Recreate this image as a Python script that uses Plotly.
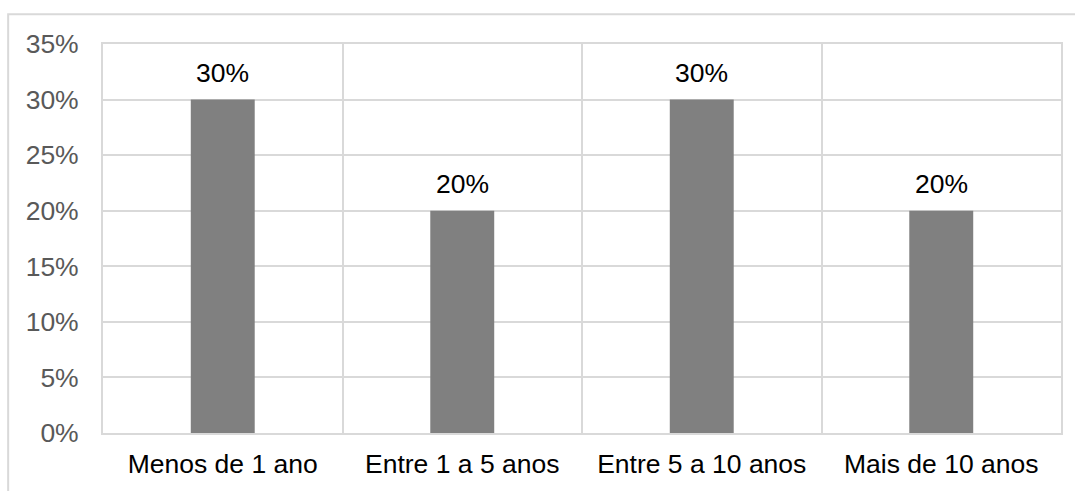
import plotly.graph_objects as go

categories = ["Menos de 1 ano", "Entre 1 a 5 anos", "Entre 5 a 10 anos", "Mais de 10 anos"]
values = [0.30, 0.20, 0.30, 0.20]
labels = ["30%", "20%", "30%", "20%"]

FONT = "Liberation Sans, Arial"
SIZE = 26.5

fig = go.Figure(go.Bar(
    x=categories, y=values,
    marker=dict(color="#808080", line=dict(width=0)),
    width=0.267,
))

for c, v, t in zip(categories, values, labels):
    fig.add_annotation(x=c, y=v, text=t, showarrow=False, yanchor="bottom",
                       yshift=10, font=dict(color="#000000", size=SIZE, family=FONT))

fig.update_layout(
    width=1075, height=491,
    margin=dict(l=103, r=14, t=44, b=56),
    paper_bgcolor="white", plot_bgcolor="white",
    font=dict(family=FONT, size=SIZE),
    showlegend=False,
    xaxis=dict(
        type="category", tickson="boundaries", showgrid=True, gridcolor="#d9d9d9", gridwidth=2,
        showline=True, linecolor="#d9d9d9", linewidth=2, mirror=True,
        ticks="", tickfont=dict(color="#000000", size=SIZE), ticklabelstandoff=6,
        range=[-0.5, 3.5],
    ),
    yaxis=dict(
        range=[0, 0.35], tickvals=[0, 0.05, 0.10, 0.15, 0.20, 0.25, 0.30, 0.35],
        tickformat=".0%", showgrid=True, gridcolor="#d9d9d9", gridwidth=2,
        showline=True, linecolor="#d9d9d9", linewidth=2, mirror=True,
        zeroline=False, ticks="outside", ticklen=17, tickcolor="rgba(0,0,0,0)",
        tickfont=dict(color="#595959", size=SIZE),
    ),
    shapes=[dict(type="rect", xref="paper", yref="paper",
                 x0=-0.099, x1=1.03, y0=-0.2, y1=1.0767,
                 line=dict(color="#d9d9d9", width=2), layer="below")],
)

fig.write_html("out.html")
